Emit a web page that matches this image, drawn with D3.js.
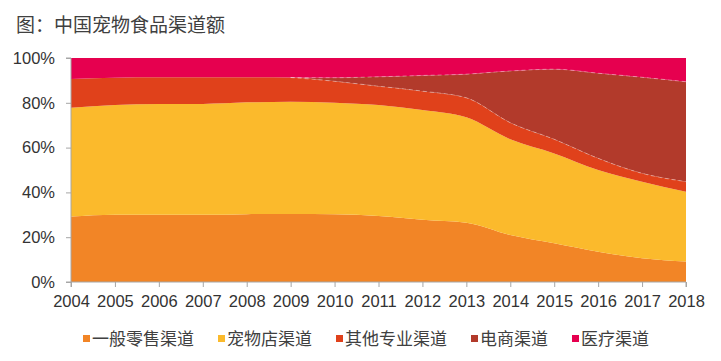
<!DOCTYPE html>
<html>
<head>
<meta charset="utf-8">
<script src="https://cdn.jsdelivr.net/npm/d3@7"></script>
<style>
  body { margin: 0; background: #fff; }
  svg { display: block; }
  .axis path, .axis line { stroke: #a6a6a6; }
  .axis text { fill: #333; font-family: "Liberation Sans", Arial, sans-serif; font-size: 16.5px; }
  .title { fill: #404040; font-family: "Noto Sans CJK SC", sans-serif; font-size: 19px; }
  .legend text { fill: #404040; font-family: "Noto Sans CJK SC", sans-serif; font-size: 17px; }
</style>
</head>
<body>
<svg id="chart" width="721" height="361"></svg>
<script>
const years = ['2004', '2005', '2006', '2007', '2008', '2009', '2010', '2011', '2012', '2013', '2014', '2015', '2016', '2017', '2018'];
const seriesNames = ['一般零售渠道', '宠物店渠道', '其他专业渠道', '电商渠道', '医疗渠道'];
const colors = ['#f28526', '#fbba2c', '#e0411b', '#b23a2b', '#e6004f'];

// 各渠道占比 (%)
const general = [29.2, 30.0, 30.0, 30.0, 30.3, 30.4, 30.3, 29.5, 27.8, 26.5, 21.0, 17.3, 13.5, 10.6, 9.1];
const petStore = [48.6, 49.0, 49.5, 49.5, 49.9, 50.1, 49.7, 49.5, 49.0, 47.0, 42.7, 40.1, 36.5, 34.2, 31.2];
const otherPro = [12.8, 12.2, 11.9, 11.9, 11.2, 10.8, 9.6, 8.4, 8.4, 8.7, 7.4, 6.3, 5.2, 3.7, 4.5];
const ecommerce = [0, 0, 0, 0, 0, 0, 1.6, 4.2, 7.0, 10.6, 23.1, 31.3, 38.0, 42.9, 44.6];
const medical = [9.4, 8.8, 8.6, 8.6, 8.6, 8.7, 8.8, 8.4, 7.8, 7.2, 5.8, 5.0, 6.8, 8.6, 10.6];

const yTicks = [0, 0.2, 0.4, 0.6, 0.8, 1];

const seriesValues = [general, petStore, otherPro, ecommerce, medical];
const table = years.map((yr, i) => {
  const row = { year: yr };
  seriesNames.forEach((n, k) => { row[n] = seriesValues[k][i] / 100; });
  return row;
});

const svg = d3.select('#chart');

svg.append('text')
  .attr('class', 'title')
  .attr('x', 16)
  .attr('y', 32)
  .text('图：中国宠物食品渠道额');

const plotLeft = 71, plotRight = 686, plotTop = 58, plotBottom = 282;

const x = d3.scalePoint().domain(years).range([plotLeft, plotRight]);
const y = d3.scaleLinear().domain([0, 1]).range([plotBottom, plotTop]);

const stacked = d3.stack().keys(seriesNames)(table);

const area = d3.area()
  .x(d => x(d.data.year))
  .y0(d => y(d[0]))
  .y1(d => y(d[1]))
  .curve(d3.curveMonotoneX);

svg.append('g')
  .selectAll('path')
  .data(stacked)
  .enter()
  .append('path')
  .attr('d', area)
  .attr('fill', (d, i) => colors[i]);

// 边界上的浅色虚线 (只在有电商份额的地方)
const firstEcom = ecommerce.findIndex(v => v > 0) - 1;
const edge = d3.line()
  .defined((d, i) => i >= firstEcom)
  .x(d => x(d.data.year))
  .y(d => y(d[1]))
  .curve(d3.curveMonotoneX);

svg.append('g')
  .selectAll('path')
  .data([stacked[2], stacked[3]])
  .enter()
  .append('path')
  .attr('d', edge)
  .attr('fill', 'none')
  .attr('stroke', 'rgba(255,255,255,0.35)')
  .attr('stroke-width', 1)
  .attr('stroke-dasharray', '4,3');

// y轴
svg.append('g')
  .attr('class', 'axis')
  .attr('transform', `translate(${plotLeft},0)`)
  .call(d3.axisLeft(y).tickValues(yTicks).tickFormat(d3.format('.0%')).tickSize(5).tickPadding(11))
  .call(g => g.select('.domain').attr('d', `M-5,${plotTop}H0V${plotBottom}H-5`));

// x轴
svg.append('g')
  .attr('class', 'axis')
  .attr('transform', `translate(0,${plotBottom})`)
  .call(d3.axisBottom(x).tickSize(5).tickPadding(8))
  .call(g => g.select('.domain').attr('d', `M${plotLeft},5V0H${plotRight}V5`));

// 图例
const legend = svg.append('g').attr('class', 'legend');
let lx = 83;
seriesNames.forEach((n, i) => {
  legend.append('rect')
    .attr('x', lx)
    .attr('y', 335)
    .attr('width', 7)
    .attr('height', 7)
    .attr('fill', colors[i]);
  const t = legend.append('text')
    .attr('x', lx + 9)
    .attr('y', 345)
    .text(n);
  lx += 9 + t.node().getComputedTextLength() + 24;
});
</script>
</body>
</html>
